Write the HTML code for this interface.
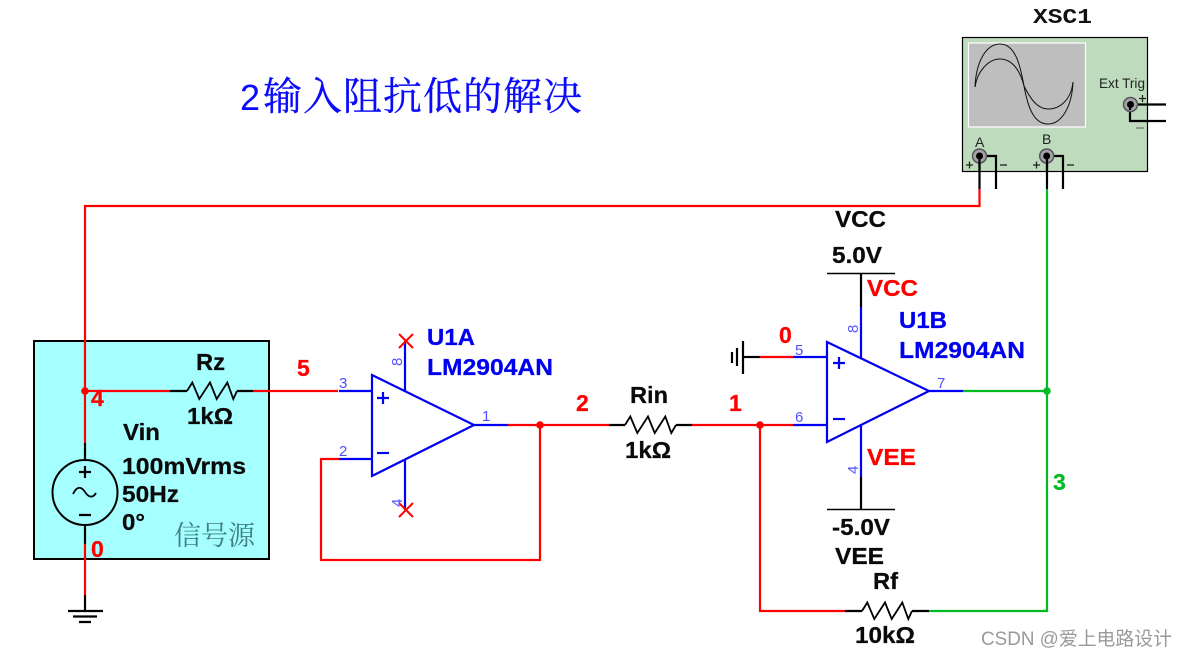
<!DOCTYPE html>
<html lang="zh">
<head>
<meta charset="utf-8">
<title>2输入阻抗低的解决</title>
<style>
html,body{margin:0;padding:0;background:#fff;width:1188px;height:657px;overflow:hidden}
svg{display:block}
text{font-family:"Liberation Sans","Noto Sans CJK SC",sans-serif}
.b{font-weight:bold;font-size:23px;stroke-width:.25px}
.k{fill:#0a0a0a;stroke:#0a0a0a}.r{fill:#ff0000;stroke:#ff0000}.u{fill:#0000f0;stroke:#0000f0}.g{fill:#00bb22;stroke:#00bb22}
.p{font-size:15px;fill:#5050ff}
.w{fill:none;stroke-width:2.200;stroke-linejoin:miter}
.red{stroke:#ff0000}.blu{stroke:#0000f5}.blk{stroke:#000}.grn{stroke:#00bb22}
.s{font-family:"Noto Serif CJK SC",serif}
</style>
</head>
<body>
<svg width="1188" height="657" viewBox="0 0 1188 657" xmlns="http://www.w3.org/2000/svg">
<rect width="1188" height="657" fill="#fff"/>

<!-- title -->
<text x="240" y="110" font-size="36" fill="#0a0aff">2<tspan class="s" x="263" y="110" font-size="39" letter-spacing="1" stroke="#0a0aff" stroke-width=".3">输入阻抗低的解决</tspan></text>

<!-- signal source box -->
<rect x="34" y="341" width="235" height="218" fill="#a6ffff" stroke="#000" stroke-width="2"/>

<!-- oscilloscope -->
<text x="1033" y="23" style="font-family:'Liberation Mono',monospace;font-weight:bold" font-size="21" fill="#111" textLength="59" lengthAdjust="spacingAndGlyphs">XSC1</text>
<rect x="962.500" y="37.500" width="185" height="134" fill="#bfdbbd" stroke="#000" stroke-width="1.200"/>
<rect x="968.500" y="43" width="117" height="84" fill="#bebebe" stroke="#fff" stroke-width="1.200"/>
<path d="M975 87C976 62 986 44 1000 44C1015 44 1020 64 1024 86C1028 108 1034 124 1048 124C1062 124 1072 106 1073 82" fill="none" stroke="#111" stroke-width="1"/>
<path d="M975 87C977 72 988 59 1000 59C1012 59 1020 70 1024 86C1030 98 1037 109 1048 109C1060 109 1071 100 1073 82" fill="none" stroke="#111" stroke-width="1"/>
<text x="1099" y="88" font-size="14" fill="#222" textLength="46" lengthAdjust="spacingAndGlyphs">Ext Trig</text>
<text x="975" y="147" font-size="14" fill="#222">A</text>
<text x="1042" y="144" font-size="14" fill="#222">B</text>
<g class="w blk">
<path d="M979.500 156V189M979.500 156H996V189"/>
<path d="M1047 156V189M1047 156H1063V189"/>
<path d="M1130 104.500H1166M1130 104.500V121H1166"/>
</g>
<g fill="#a3a3a8" stroke="#55555a" stroke-width="1.500">
<circle cx="979.500" cy="156" r="7"/>
<circle cx="1046.700" cy="156" r="7"/>
<circle cx="1130.500" cy="104.500" r="7"/>
</g>
<g fill="#000">
<circle cx="979.500" cy="156" r="3.500"/>
<circle cx="1046.700" cy="156" r="3.500"/>
<circle cx="1130.500" cy="104.500" r="3.500"/>
</g>
<path d="M979.500 156V170M1047 156V170M1130 104.500V110" stroke="#000" stroke-width="2.200"/>
<g stroke="#222" stroke-width="1.300" fill="none">
<path d="M966 165H973M969.500 161.500V168.500"/>
<path d="M1000 165H1007"/>
<path d="M1033 165H1040M1036.500 161.500V168.500"/>
<path d="M1067 165H1074"/>
<path d="M1139 98.500H1146M1142.500 95V102"/>
</g>
<path d="M1136 128H1144" stroke="#8a9a8a" stroke-width="2"/>

<!-- red wires -->
<g class="w red">
<path d="M979.500 189V206H85V443"/>
<path d="M85 391H170"/>
<path d="M253 391H338"/>
<path d="M85 544V595"/>
<path d="M508 425H609"/>
<path d="M692 425H793"/>
<path d="M540 425V560H321V459H339"/>
<path d="M760 425V611H845"/>
<path d="M760 357H793"/>
</g>
<!-- green wires -->
<g class="w grn">
<path d="M963 391H1047"/>
<path d="M1047 189V611H929"/>
</g>
<!-- black parts -->
<g class="w blk">
<path d="M85 443V459"/>
<path d="M85 525V544"/>
<path d="M85 595V610"/>
<path d="M170 391H187M237 391H253" />
<path d="M187 391L192.300 382.500L199.300 399L210 382.500L216.700 399L227.300 382.500L233.300 399L237 391" stroke-width="1.800"/>
<path d="M609 425H625M676 425H692"/>
<path d="M625 425L630.300 416.500L637.300 433L648 416.500L654.700 433L665.300 416.500L671.300 433L676 425" stroke-width="1.800"/>
<path d="M845 611H862M912 611H929"/>
<path d="M862 611L867.300 602.500L874.300 619L885 602.500L891.700 619L902.300 602.500L908.300 619L912 611" stroke-width="1.800"/>
<path d="M861 273V307"/>
<path d="M861 477V509"/>
<path d="M744 357H760"/>
</g>
<!-- supply bars -->
<path d="M827 273.500H895M827 509.500H895" stroke="#000" stroke-width="1.500"/>
<!-- grounds -->
<g stroke="#000" stroke-width="2.200">
<path d="M68 611H103M73 616.500H97M79 622H91"/>
<path d="M743 341V374M737 348V366M732 352V363"/>
</g>

<!-- source symbol -->
<circle cx="85" cy="492.500" r="32.500" fill="none" stroke="#000" stroke-width="2"/>
<path d="M79 472H91M85 466V478M79 515H91" stroke="#000" stroke-width="2.200" fill="none"/>
<path d="M73 494C77 486 81 486 85 492C89 498 93 498 96 493" stroke="#000" stroke-width="1.800" fill="none"/>

<!-- op amp A -->
<g class="w blu">
<path d="M372 375L474 425L372 476Z"/>
<path d="M339 391H372M339 459H372M474 425H508"/>
<path d="M405 391V341M405 460V510"/>
<path d="M377 398H389M383 392V404" />
<path d="M377 453H389"/>
</g>
<path d="M399 334L413 348M413 334L399 348M399 503L413 517M413 503L399 517" stroke="#ff0000" stroke-width="2"/>

<!-- op amp B -->
<g class="w blu">
<path d="M827 342L929 391L827 442Z"/>
<path d="M793 357H827M793 425H827M929 391H963"/>
<path d="M861 307V358M861 425V477"/>
<path d="M833 363H845M839 357V369"/>
<path d="M833 419H845"/>
</g>

<!-- junction dots -->
<circle cx="85" cy="391" r="3.800" fill="#ff0000"/>
<circle cx="540" cy="425" r="3.800" fill="#ff0000"/>
<circle cx="760" cy="425" r="3.800" fill="#ff0000"/>
<circle cx="1047" cy="391" r="3.800" fill="#00bb22"/>

<!-- component labels -->
<g class="b k">
<text x="196" y="370" textLength="29" lengthAdjust="spacingAndGlyphs">Rz</text>
<text x="187" y="424" textLength="46" lengthAdjust="spacingAndGlyphs">1kΩ</text>
<text x="123" y="440" textLength="37" lengthAdjust="spacingAndGlyphs">Vin</text>
<text x="122" y="474" textLength="124" lengthAdjust="spacingAndGlyphs">100mVrms</text>
<text x="122" y="502" textLength="57" lengthAdjust="spacingAndGlyphs">50Hz</text>
<text x="122" y="530" textLength="23" lengthAdjust="spacingAndGlyphs">0°</text>
<text x="630" y="403" textLength="38" lengthAdjust="spacingAndGlyphs">Rin</text>
<text x="625" y="458" textLength="46" lengthAdjust="spacingAndGlyphs">1kΩ</text>
<text x="835" y="227" textLength="51" lengthAdjust="spacingAndGlyphs">VCC</text>
<text x="832" y="263" textLength="50" lengthAdjust="spacingAndGlyphs">5.0V</text>
<text x="832" y="535" textLength="58" lengthAdjust="spacingAndGlyphs">-5.0V</text>
<text x="835" y="564" textLength="49" lengthAdjust="spacingAndGlyphs">VEE</text>
<text x="873" y="589" textLength="25" lengthAdjust="spacingAndGlyphs">Rf</text>
<text x="855" y="643" textLength="60" lengthAdjust="spacingAndGlyphs">10kΩ</text>
</g>
<text class="s" x="174" y="545" font-size="27" fill="#3f7f86">信号源</text>

<!-- net labels -->
<g class="b r">
<text x="91" y="406">4</text>
<text x="91" y="557">0</text>
<text x="297" y="376">5</text>
<text x="576" y="411">2</text>
<text x="729" y="411">1</text>
<text x="779" y="343">0</text>
<text x="867" y="296" textLength="51" lengthAdjust="spacingAndGlyphs">VCC</text>
<text x="867" y="465" textLength="49" lengthAdjust="spacingAndGlyphs">VEE</text>
</g>
<text class="b g" x="1053" y="490">3</text>

<!-- part labels -->
<g class="b u">
<text x="427" y="345" textLength="48" lengthAdjust="spacingAndGlyphs">U1A</text>
<text x="427" y="375" textLength="126" lengthAdjust="spacingAndGlyphs">LM2904AN</text>
<text x="899" y="328" textLength="48" lengthAdjust="spacingAndGlyphs">U1B</text>
<text x="899" y="358" textLength="126" lengthAdjust="spacingAndGlyphs">LM2904AN</text>
</g>

<!-- pin numbers -->
<g class="p">
<text x="339" y="388">3</text>
<text x="339" y="456">2</text>
<text x="482" y="421">1</text>
<text x="795" y="355">5</text>
<text x="795" y="422">6</text>
<text x="937" y="388">7</text>
<text transform="translate(402,366) rotate(-90)">8</text>
<text transform="translate(402,507) rotate(-90)">4</text>
<text transform="translate(858,333) rotate(-90)">8</text>
<text transform="translate(858,474) rotate(-90)">4</text>
</g>

<!-- watermark -->
<text x="981" y="645" font-size="19" fill="#9a9a9a" textLength="191" lengthAdjust="spacingAndGlyphs">CSDN @爱上电路设计</text>
</svg>
</body>
</html>
